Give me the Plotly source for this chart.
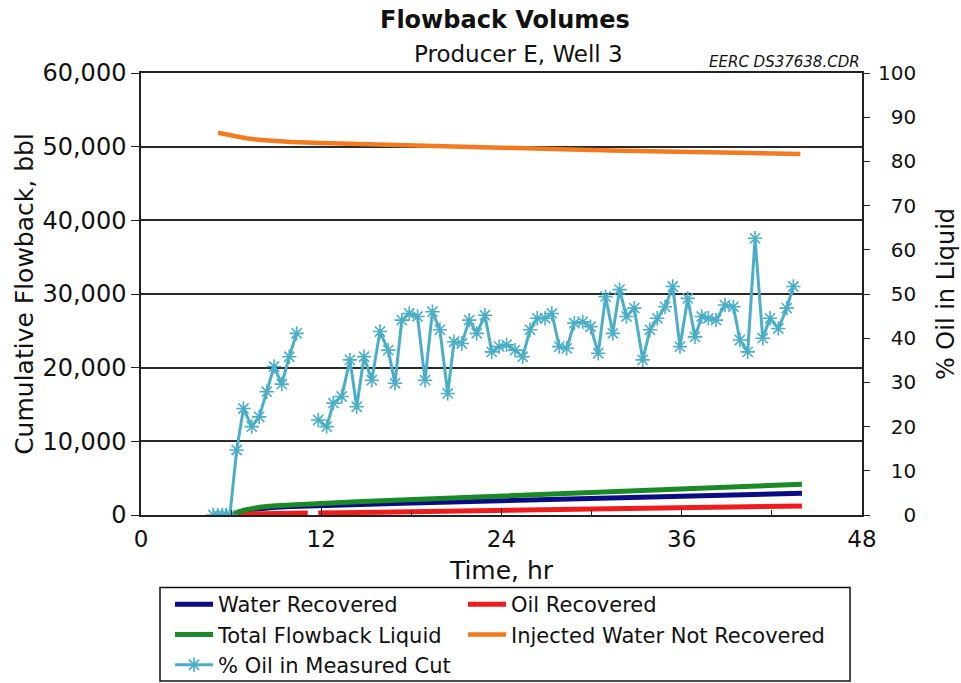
import plotly.graph_objects as go

# ---------------- data ----------------
vol_hours = [6.06, 6.5, 7, 7.5, 8, 9, 10, 11, 12, 14, 16, 18, 20, 24, 28, 32, 36, 40, 44.0]
water_recovered = [0, 350, 600, 780, 900, 1050, 1150, 1230, 1300, 1420, 1530, 1640, 1740, 1930, 2120, 2320, 2520, 2730, 2950]
total_flowback = [0, 430, 730, 940, 1080, 1260, 1390, 1490, 1620, 1780, 1940, 2090, 2240, 2530, 2840, 3160, 3470, 3810, 4170]

oil_hours = [6.06, 6.5, 7, 7.5, 8, 9, 10, 11.1, 11.45, 11.8, 12, 14, 16, 18, 20, 24, 28, 32, 36, 40, 44.0]
oil_recovered = [0, 80, 130, 160, 180, 210, 240, 260, None, 280, 290, 340, 390, 440, 500, 600, 720, 840, 950, 1080, 1220]

inj_hours = [5.13, 6, 7, 8, 9, 10, 12, 16, 20, 24, 28, 32, 36, 40, 43.9]
injected_not_recovered = [51900, 51500, 51150, 50900, 50750, 50650, 50500, 50250, 50050, 49850, 49650, 49450, 49250, 49100, 49000]

cut_hours = [4.81, 5.11, 5.42, 5.67, 5.92, 6.37, 6.82, 7.37, 7.87, 8.37, 8.86, 9.37, 9.87, 10.36,
             11.08,
             11.80, 12.36, 12.81, 13.36, 13.91, 14.36, 14.85, 15.36, 15.91, 16.46, 16.91, 17.36, 17.86,
             18.41, 18.91, 19.40, 19.90, 20.42, 20.84, 21.36, 21.85, 22.35, 22.90, 23.35, 23.85, 24.34,
             24.90, 25.41, 25.90, 26.38, 26.90, 27.35, 27.85, 28.34, 28.85, 29.41, 29.93, 30.44, 30.93,
             31.41, 31.86, 32.32, 32.84, 33.40, 33.88, 34.37, 34.89, 35.40, 35.88, 36.40, 36.88, 37.33,
             37.77, 38.28, 38.88, 39.44, 39.87, 40.39, 40.88, 41.39, 41.88, 42.43, 42.99, 43.43]
pct_oil_cut = [0, 0, 0, 0, 0, 14.7, 24.1, 20.0, 22.2, 27.9, 33.6, 29.6, 35.8, 41.1,
               None,
               21.5, 20.0, 25.3, 26.8, 35.1, 24.5, 35.8, 30.5, 41.5, 37.3, 29.8, 44.1, 45.6,
               44.9, 30.5, 46.0, 41.9, 27.5, 39.2, 38.8, 44.1, 41.1, 45.2, 36.9, 38.1, 38.5,
               37.3, 35.8, 41.9, 44.5, 44.5, 45.6, 38.1, 37.7, 43.4, 43.7, 42.6, 36.6, 49.4,
               41.1, 51.0, 44.9, 46.8, 35.1, 41.9, 44.5, 47.1, 51.7, 38.1, 49.0, 40.3, 44.9,
               44.5, 44.1, 47.5, 47.1, 39.6, 36.9, 62.6, 40.0, 44.5, 42.2, 46.8, 51.7]

x_ticks = [0, 12, 24, 36, 48]
left_ticks = [0, 10000, 20000, 30000, 40000, 50000, 60000]
right_ticks = [0, 10, 20, 30, 40, 50, 60, 70, 80, 90, 100]

# ---------------- styling ----------------
FONT = "DejaVu Sans, Liberation Sans, Arial, sans-serif"
C_WATER = "#0b0b85"
C_OIL = "#ee1c1c"
C_TOTAL = "#1a8a26"
C_INJ = "#f47a20"
C_CUT = "#4aaec8"

# right-aligned labels on the right axis (pad with figure spaces)
right_text = ["\u2007" * (3 - len(str(v))) + str(v) for v in right_ticks]

fig = go.Figure()
fig.add_trace(go.Scatter(x=vol_hours, y=water_recovered, name="Water Recovered", mode="lines",
                         line=dict(color=C_WATER, width=5), legend="legend"))
fig.add_trace(go.Scatter(x=oil_hours, y=oil_recovered, name="Oil Recovered", mode="lines",
                         line=dict(color=C_OIL, width=5), connectgaps=False, legend="legend2"))
fig.add_trace(go.Scatter(x=vol_hours, y=total_flowback, name="Total Flowback Liquid", mode="lines",
                         line=dict(color=C_TOTAL, width=5), legend="legend"))
fig.add_trace(go.Scatter(x=inj_hours, y=injected_not_recovered, name="Injected Water Not Recovered",
                         mode="lines", line=dict(color=C_INJ, width=4.5), legend="legend2"))
fig.add_trace(go.Scatter(x=cut_hours, y=pct_oil_cut, name="% Oil in Measured Cut", mode="lines+markers",
                         yaxis="y2", connectgaps=False, legend="legend",
                         line=dict(color=C_CUT, width=3),
                         marker=dict(symbol="asterisk-open", size=12, color=C_CUT,
                                     line=dict(color=C_CUT, width=1.6))))

L, R, T, B = 141, 99, 73, 168
W, H = 961, 683
pw = W - L - R
ph = H - T - B

def px_x(x):
    return (x - L) / pw

def px_y(y):
    return (H - B - y) / ph

leg_common = dict(orientation="v", xanchor="left", yanchor="top", font=dict(size=21),
                  bgcolor="rgba(0,0,0,0)", itemwidth=38, tracegroupgap=0)

fig.update_layout(
    width=W, height=H,
    margin=dict(l=L, r=R, t=T, b=B, autoexpand=False),
    paper_bgcolor="white", plot_bgcolor="white",
    font=dict(family=FONT, color="#111111", size=20),
    showlegend=True,
    xaxis=dict(range=[0, 48], tickvals=x_ticks, ticks="inside", ticklen=7, tickwidth=1.2,
               tickcolor="#222", showline=True, linecolor="#222", linewidth=1.5, mirror=True,
               showgrid=False, zeroline=False, tickfont=dict(size=23), ticklabelstandoff=3,
               minor=dict(dtick=6, ticks="inside", ticklen=5, tickcolor="#222", showgrid=False),
               title=dict(text="Time, hr", font=dict(size=25), standoff=10)),
    yaxis=dict(range=[0, 60000], tickvals=left_ticks, tickformat=",d", ticks="outside",
               ticklen=8, tickcolor="#222", showline=True, linecolor="#222", linewidth=1.5,
               mirror=True, showgrid=True, gridcolor="#2a2a2a", gridwidth=1.6, zeroline=False,
               tickfont=dict(size=24),
               title=dict(text="Cumulative Flowback, bbl", font=dict(size=25), standoff=2)),
    yaxis2=dict(range=[0, 100], tickvals=right_ticks, ticktext=right_text, overlaying="y",
                side="right", ticks="outside", ticklen=7, tickcolor="#222", showline=False,
                showgrid=False, zeroline=False, tickfont=dict(size=20), ticklabelstandoff=4,
                title=dict(text="% Oil in Liquid", font=dict(size=24), standoff=22)),
    legend=dict(x=px_x(170), y=px_y(584), **leg_common),
    legend2=dict(x=px_x(463), y=px_y(584), **leg_common),
    shapes=[dict(type="rect", xref="paper", yref="paper",
                 x0=px_x(160), x1=px_x(850), y0=px_y(681), y1=px_y(587.5),
                 line=dict(color="#111", width=1.5), fillcolor="rgba(0,0,0,0)")],
    annotations=[
        dict(text="<b>Flowback Volumes</b>", xref="paper", yref="paper", x=px_x(505), y=px_y(20),
             xanchor="center", yanchor="middle", showarrow=False, font=dict(size=24)),
        dict(text="Producer E, Well 3", xref="paper", yref="paper", x=px_x(518), y=px_y(54),
             xanchor="center", yanchor="middle", showarrow=False, font=dict(size=23)),
        dict(text="<i>EERC DS37638.CDR</i>", xref="paper", yref="paper", x=px_x(862), y=px_y(62),
             xanchor="right", yanchor="middle", showarrow=False, font=dict(size=15)),
    ],
)

fig.write_html("out.html", config={"displayModeBar": False},
               post_script="document.body.style.margin='0';document.body.style.padding='0';")
